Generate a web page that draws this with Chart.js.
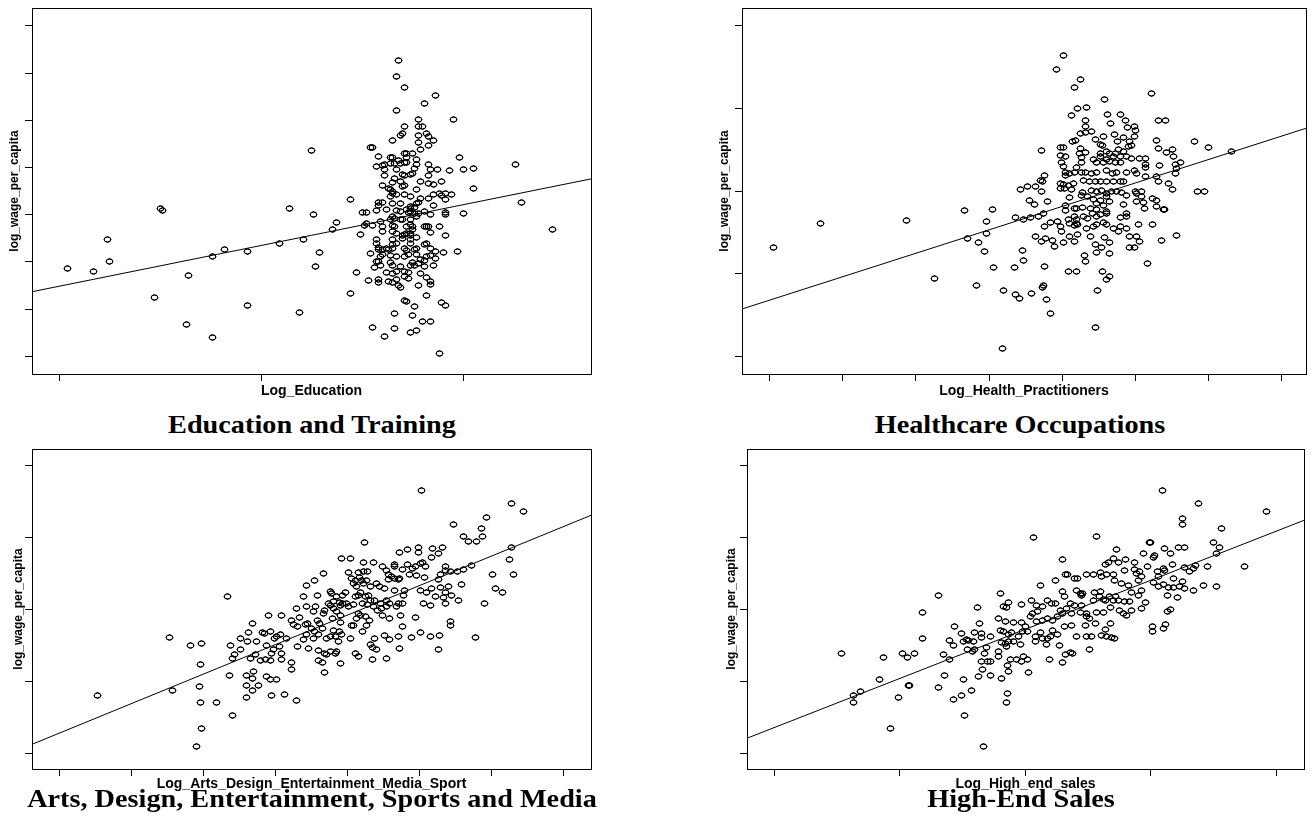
<!DOCTYPE html>
<html>
<head>
<meta charset="utf-8">
<script src="https://cdn.jsdelivr.net/npm/chart.js@4.4.1/dist/chart.umd.min.js"></script>
<style>
html, body { margin: 0; padding: 0; background: #fff; overflow: hidden; }
body { width: 1314px; height: 832px; position: relative; }
canvas { position: absolute; }
.ttl { position: absolute; width: 640px; text-align: center; white-space: nowrap; color: #000;
       font: bold 25px "Liberation Serif", "Times New Roman", serif; line-height: 25px;
       transform: scaleX(1.13); transform-origin: 50% 50%; }
</style>
</head>
<body>
<canvas id="edu" width="657" height="400" style="left:0;top:0"></canvas>
<canvas id="health" width="657" height="400" style="left:657px;top:0"></canvas>
<canvas id="arts" width="657" height="360" style="left:0;top:440px"></canvas>
<canvas id="sales" width="657" height="360" style="left:657px;top:440px"></canvas>
<div class="ttl" style="left:-8px;top:412px">Education and Training</div>
<div class="ttl" style="left:700px;top:412px">Healthcare Occupations</div>
<div class="ttl" style="left:-8px;top:786px">Arts, Design, Entertainment, Sports and Media</div>
<div class="ttl" style="left:701px;top:786px">High-End Sales</div>
<script>
// values, axes unlabeled so one tick step = 1 unit
const eduPoints = [
[0.04,1.87],[0.17,1.79],[0.24,2.47],[0.25,2.00],[0.50,3.14],[0.51,3.10],[0.47,1.25],[0.64,1.72],[0.63,0.67],[0.76,0.39],
[0.76,2.12],[0.82,2.27],[0.93,2.23],[0.93,1.08],[1.09,2.39],[1.14,3.14],[1.25,4.37],[1.26,3.00],[1.21,2.48],[1.29,2.20],
[1.27,1.91],[1.19,0.92],[1.35,2.68],[1.37,2.83],
[1.68,6.27],[1.67,5.94],[1.71,5.69],[1.86,5.53],[1.81,5.35],[1.67,5.22],[1.95,5.01],[1.78,5.02],[1.71,4.86],[1.78,4.87],
[1.80,4.87],[1.65,4.58],[1.69,4.69],[1.70,4.73],[1.78,4.69],[1.82,4.72],[1.83,4.65],[1.85,4.57],[1.78,4.54],[1.83,4.46],
[1.79,4.39],[1.54,4.42],[1.55,4.42],[1.58,4.24],[1.64,4.21],[1.65,4.21],[1.71,4.30],[1.72,4.29],[1.75,4.30],[1.72,4.22],
[1.68,4.16],[1.77,4.18],[1.98,4.22],[2.26,4.07],[1.57,4.03],[1.60,4.04],[1.61,4.06],[1.64,4.09],[1.66,4.09],[1.69,4.09],
[1.71,4.10],[1.72,4.10],[1.77,4.06],[1.83,4.06],[1.61,3.95],[1.67,3.95],[1.76,3.99],[1.84,3.96],[1.87,3.97],[1.93,3.93],
[2.00,3.95],[2.05,3.98],[1.70,3.86],[1.71,3.83],[1.74,3.86],[1.75,3.88],[1.61,3.84],[1.83,3.84],[1.65,3.69],[1.66,3.77],
[1.69,3.70],[1.79,3.70],[1.83,3.67],[1.85,3.65],[1.89,3.71],[1.60,3.62],[1.71,3.63],[1.70,3.60],[1.63,3.55],[1.64,3.53],
[1.65,3.49],[1.77,3.53],[1.85,3.42],[1.88,3.46],[1.91,3.46],[1.94,3.44],[2.05,3.55],[1.89,3.40],[1.91,3.32],[1.67,3.42],
[1.71,3.42],[1.65,3.46],[1.64,3.38],[1.74,3.38],[1.79,3.35],[1.83,3.34],[1.44,3.33],[1.60,3.27],[1.58,3.26],[1.58,3.19],
[1.65,3.24],[1.69,3.23],[1.78,3.26],[1.77,3.23],[1.74,3.17],[1.72,3.12],[1.74,3.14],[1.76,3.16],[1.85,3.19],[2.29,3.26],
[1.50,3.05],[1.52,3.05],[1.57,3.10],[1.62,3.12],[1.67,3.09],[1.69,3.07],[1.73,3.05],[1.74,3.07],[1.76,3.03],[1.78,3.03],
[1.81,3.06],[1.91,3.04],[1.91,3.00],[2.00,3.02],[1.84,3.01],[1.77,2.97],[1.65,2.96],[1.66,2.93],[1.64,2.90],[1.69,2.91],
[1.70,2.89],[1.74,2.89],[1.59,2.86],[1.51,2.78],[1.52,2.81],[1.55,2.78],[1.60,2.75],[1.65,2.78],[1.66,2.75],[1.72,2.75],
[1.74,2.80],[1.75,2.75],[1.81,2.76],[1.82,2.75],[1.83,2.75],[1.88,2.75],[2.44,2.68],[1.60,2.64],[1.49,2.59],[1.65,2.64],
[1.67,2.61],[1.70,2.57],[1.71,2.59],[1.72,2.61],[1.74,2.57],[1.74,2.61],[1.75,2.68],[1.84,2.62],[1.91,2.57],[1.77,2.52],
[1.65,2.47],[1.70,2.49],[1.74,2.47],[1.57,2.48],[1.57,2.40],[1.67,2.40],[1.65,2.36],[1.65,2.29],[1.74,2.40],[1.81,2.36],
[1.82,2.40],[1.58,2.31],[1.60,2.27],[1.58,2.27],[1.62,2.29],[1.63,2.27],[1.71,2.29],[1.72,2.25],[1.76,2.27],[1.77,2.29],
[1.84,2.29],[1.86,2.22],[1.90,2.21],[1.97,2.23],[1.54,2.17],[1.59,2.11],[1.60,2.15],[1.64,2.13],[1.67,2.11],[1.71,2.11],
[1.73,2.15],[1.77,2.15],[1.82,2.11],[1.84,2.13],[1.86,2.07],[1.79,2.06],[1.81,2.04],[1.58,2.01],[1.57,2.00],[1.64,1.98],
[1.65,1.92],[1.75,1.99],[1.74,1.92],[1.76,1.92],[1.78,1.97],[1.69,1.90],[1.81,1.90],[1.85,1.92],[1.56,1.88],[1.59,1.92],
[1.62,1.77],[1.65,1.76],[1.67,1.79],[1.71,1.79],[1.73,1.77],[1.47,1.77],[1.79,1.76],[1.82,1.67],[1.84,1.58],[1.84,1.53],
[1.53,1.60],[1.58,1.62],[1.58,1.57],[1.63,1.58],[1.65,1.56],[1.67,1.62],[1.68,1.51],[1.71,1.69],[1.73,1.65],[1.78,1.50],
[1.69,1.46],[1.44,1.34],[1.82,1.29],[1.71,1.18],[1.72,1.16],[1.76,1.05],[1.89,1.15],[1.91,1.07],[1.66,0.90],[1.75,0.86],
[1.80,0.73],[1.84,0.73],[1.55,0.61],[1.66,0.60],[1.61,0.42],[1.74,0.50],[1.77,0.54],[1.88,0.07]
];
const healthPoints = [
[0.06,1.32],[0.70,1.61],[1.87,1.64],[2.25,0.94],[2.67,1.76],[2.71,1.43],[2.86,1.38],[2.83,0.86],[2.94,1.27],[2.97,1.63],
[2.97,1.49],[3.04,1.77],[3.06,1.07],
[4.01,3.64],[3.92,3.47],[4.25,3.35],[4.16,3.26],[5.22,3.18],[4.58,3.11],[4.21,3.00],[4.33,3.01],[4.13,2.92],[4.62,2.93],
[4.80,2.93],[4.32,2.85],[4.66,2.82],[4.86,2.85],[5.32,2.85],[5.41,2.85],[4.31,2.78],[4.25,2.70],[4.32,2.71],[4.40,2.72],
[4.89,2.77],[4.99,2.78],[5.00,2.73],[4.56,2.66],[4.71,2.68],[4.83,2.65],[4.98,2.66],[4.14,2.60],[4.18,2.61],[4.45,2.62],
[4.52,2.56],[4.55,2.55],[4.75,2.60],[4.92,2.60],[5.28,2.61],[5.32,2.52],[5.43,2.47],[5.80,2.60],[6.00,2.53],[6.31,2.48],
[3.72,2.49],[3.98,2.53],[4.02,2.53],[4.25,2.52],[4.32,2.47],[4.24,2.46],[4.26,2.41],[4.52,2.46],[4.61,2.48],[4.65,2.46],
[4.72,2.46],[4.77,2.50],[4.83,2.48],[4.90,2.54],[4.95,2.55],[5.51,2.50],[5.52,2.42],[3.98,2.43],[4.05,2.42],[4.42,2.38],
[4.52,2.42],[4.61,2.38],[4.70,2.42],[4.80,2.42],[4.87,2.42],[4.95,2.39],[5.06,2.39],[5.13,2.39],[3.99,2.34],[4.02,2.30],
[4.20,2.29],[4.26,2.34],[4.47,2.34],[4.56,2.34],[4.65,2.36],[4.72,2.34],[4.79,2.34],[5.13,2.32],[5.14,2.28],[5.33,2.31],
[5.55,2.32],[5.62,2.35],[5.55,2.21],[5.56,2.27],[4.05,2.23],[4.04,2.19],[4.10,2.21],[4.17,2.22],[4.26,2.22],[4.32,2.23],
[4.40,2.21],[4.47,2.23],[4.60,2.25],[4.68,2.21],[4.74,2.23],[4.88,2.22],[4.98,2.25],[5.02,2.21],[3.75,2.19],[3.70,2.13],
[5.14,2.17],[5.28,2.17],[5.32,2.12],[3.98,2.09],[4.02,2.08],[4.08,2.07],[4.15,2.09],[4.29,2.13],[4.37,2.12],[4.45,2.11],
[4.52,2.11],[4.61,2.12],[4.70,2.11],[4.79,2.12],[4.84,2.11],[5.45,2.09],[5.50,2.02],[3.43,2.02],[3.53,2.05],[3.64,2.05],
[3.71,2.00],[3.73,2.12],[3.98,2.03],[4.03,2.03],[4.12,2.02],[4.28,1.98],[4.40,2.01],[4.47,1.99],[4.54,2.01],[4.61,1.97],
[4.67,1.99],[4.74,1.99],[4.81,1.98],[5.00,1.99],[5.08,2.00],[5.01,1.97],[5.85,2.00],[5.94,2.00],[3.55,1.89],[3.62,1.84],
[3.80,1.87],[4.10,1.92],[4.26,1.95],[4.35,1.93],[4.43,1.90],[4.47,1.85],[4.52,1.89],[4.61,1.93],[4.65,1.87],[4.87,1.94],
[5.01,1.87],[5.08,1.93],[5.11,1.86],[5.23,1.91],[5.29,1.88],[5.38,1.78],[4.05,1.83],[4.16,1.79],[4.20,1.79],[4.28,1.80],
[4.38,1.79],[4.47,1.77],[4.56,1.82],[4.61,1.75],[4.84,1.84],[5.12,1.79],[5.28,1.81],[5.39,1.78],[3.36,1.68],[3.47,1.65],
[3.56,1.68],[3.67,1.69],[3.74,1.73],[4.04,1.76],[4.08,1.65],[4.16,1.69],[4.20,1.66],[4.29,1.69],[4.35,1.67],[4.41,1.73],
[4.47,1.69],[4.52,1.72],[4.60,1.73],[4.80,1.68],[4.88,1.69],[4.88,1.73],[5.04,1.60],[5.23,1.60],[3.76,1.57],[3.84,1.62],
[3.94,1.63],[3.97,1.57],[3.99,1.51],[4.10,1.61],[4.20,1.61],[4.17,1.58],[4.21,1.59],[4.33,1.55],[4.43,1.57],[4.47,1.60],
[4.56,1.62],[4.61,1.59],[4.70,1.55],[4.77,1.51],[4.80,1.57],[4.88,1.54],[3.64,1.45],[3.71,1.39],[3.77,1.43],[3.86,1.40],
[3.89,1.33],[4.01,1.37],[4.10,1.45],[4.16,1.39],[4.21,1.47],[4.38,1.45],[4.45,1.35],[4.47,1.26],[4.54,1.31],[4.57,1.44],
[4.65,1.37],[4.65,1.24],[4.92,1.45],[5.02,1.45],[5.05,1.39],[4.98,1.32],[4.92,1.32],[5.36,1.40],[5.56,1.46],[3.46,1.28],
[3.47,1.16],[3.35,1.07],[3.76,1.08],[4.30,1.22],[4.31,1.14],[5.17,1.12],[4.09,1.02],[4.20,1.03],[4.55,1.03],[4.61,0.93],
[4.65,0.96],[3.20,0.79],[3.36,0.74],[3.42,0.70],[3.58,0.76],[3.74,0.86],[3.73,0.83],[3.79,0.69],[3.84,0.52],[4.48,0.80],
[4.46,0.34],[3.18,0.09]
];
const artsPoints = [
[0.53,0.80],[1.53,1.61],[1.57,0.87],[1.82,1.50],[1.97,1.53],[1.96,1.23],[1.95,0.93],[1.96,0.70],[2.19,0.70],[1.98,0.34],
[1.91,0.10],[2.34,2.18],[2.38,1.50],[2.43,1.38],[2.40,1.32],[2.37,1.08],[2.40,0.53],[2.51,1.45],[2.52,1.59],[2.62,1.55],
[2.63,1.68],[2.69,1.81],[2.74,1.56],[2.65,1.32],[2.72,1.37],[2.60,1.08],[2.69,1.04],[2.70,1.14],[2.60,0.95],[2.77,0.94],
[2.69,0.87],[2.60,0.77],[2.80,1.29],[2.87,1.30],[2.90,1.92],[2.82,1.68],[2.85,1.66],[2.93,1.69],[2.88,1.50],[2.93,1.29],
[2.95,1.39],[2.97,1.44],[2.88,1.07],[2.93,1.02],[3.02,1.03],[2.95,0.80],[3.13,0.82],[3.29,0.74],[3.09,1.92],[2.99,1.60],
[3.02,1.62],[3.07,1.65],[3.06,1.48],[3.09,1.39],[3.15,1.59],[3.08,1.30],[3.23,1.85],[3.25,1.79],[3.23,1.26],[3.23,1.17],
[3.30,2.01],[3.34,1.89],[3.31,1.76],[3.31,1.49],[3.39,2.18],[3.43,2.34],[3.42,1.79],[3.45,1.81],[3.39,1.58],[3.43,1.65],
[3.44,2.04],[3.53,1.97],[3.55,2.41],[3.59,2.20],[3.50,1.74],[3.54,1.69],[3.53,1.59],[3.46,1.46],[3.56,2.04],[3.58,1.85],
[3.62,1.81],[3.60,1.65],[3.60,1.43],[3.60,1.29],[3.68,1.39],[3.66,1.26],[3.69,1.13],[3.67,2.50],[3.67,1.95],[3.69,1.99],
[3.74,2.09],[3.77,2.06],[3.66,1.74],[3.71,1.59],[3.76,1.62],[3.71,1.37],
[5.03,3.65],[6.28,3.48],[6.45,3.36],[5.93,3.28],[5.87,3.12],[5.88,3.01],[5.47,3.18],[5.61,3.01],[5.69,2.94],[5.79,2.94],
[4.24,2.93],[6.28,2.86],[6.25,2.70],[6.31,2.48],[4.72,2.79],[4.83,2.84],[4.99,2.86],[4.99,2.79],[5.19,2.85],[5.32,2.86],
[5.26,2.78],[5.17,2.73],[3.92,2.71],[4.04,2.71],[4.22,2.65],[4.36,2.66],[4.01,2.52],[4.15,2.52],[4.22,2.53],[4.28,2.53],
[4.49,2.60],[4.55,2.54],[4.66,2.62],[4.65,2.60],[4.76,2.56],[4.83,2.62],[4.91,2.57],[4.95,2.60],[5.01,2.64],[5.05,2.66],
[5.08,2.60],[4.87,2.48],[4.96,2.47],[5.07,2.44],[5.36,2.60],[5.37,2.54],[5.44,2.53],[5.53,2.53],[5.61,2.55],[5.73,2.61],
[5.29,2.48],[5.26,2.42],[6.02,2.48],[6.06,2.29],[6.15,2.23],[5.90,2.09],[4.06,2.43],[4.11,2.41],[4.08,2.36],[4.17,2.44],
[4.20,2.41],[4.22,2.36],[4.27,2.41],[4.13,2.32],[4.32,2.32],[4.41,2.36],[4.45,2.32],[4.51,2.29],[4.57,2.48],[4.57,2.42],
[4.62,2.46],[4.66,2.43],[4.71,2.42],[4.73,2.43],[4.66,2.27],[4.79,2.27],[4.78,2.20],[5.01,2.27],[5.10,2.23],[5.17,2.29],
[5.29,2.30],[5.41,2.32],[5.36,2.23],[5.22,2.18],[5.33,2.16],[5.45,2.20],[5.58,2.35],[5.54,2.13],[3.76,2.25],[3.78,2.22],
[3.85,2.18],[3.94,2.20],[3.97,2.23],[3.81,2.11],[3.89,2.10],[3.90,2.06],[3.93,2.09],[3.99,2.09],[4.01,2.04],[4.08,2.07],
[4.11,2.18],[4.15,2.20],[4.19,2.23],[4.25,2.18],[4.29,2.20],[4.21,2.09],[4.28,2.07],[4.32,2.12],[4.38,2.13],[4.36,2.04],
[4.42,1.99],[4.46,2.09],[4.54,2.12],[4.55,2.04],[4.59,2.08],[4.69,2.04],[4.71,2.09],[4.76,2.09],[4.48,2.02],[4.49,1.92],
[4.59,1.88],[3.81,2.02],[3.85,1.97],[3.80,1.88],[3.90,1.92],[3.90,1.82],[4.06,1.78],[4.08,1.78],[4.15,1.95],[4.13,1.88],
[4.18,1.91],[4.25,1.90],[4.31,1.85],[4.27,1.78],[4.21,1.69],[4.74,1.92],[4.76,1.76],[4.95,1.89],[5.06,2.09],[5.15,2.06],
[5.36,2.09],[5.43,1.83],[5.44,1.78],[3.81,1.71],[3.89,1.69],[3.92,1.65],[3.83,1.62],[3.88,1.55],[4.04,1.59],[3.76,1.41],
[3.83,1.39],[3.85,1.41],[3.91,1.25],[4.12,1.39],[4.15,1.34],[4.32,1.51],[4.35,1.47],[4.41,1.44],[4.35,1.30],[4.55,1.32],
[4.38,1.60],[4.51,1.64],[4.59,1.58],[4.71,1.62],[4.72,1.46],[4.89,1.61],[5.01,1.68],[5.15,1.62],[5.28,1.64],[5.27,1.45],
[5.78,1.61]
];
const salesPoints = [
[0.54,1.39],[0.63,0.80],[0.63,0.70],[0.69,0.86],[0.87,1.33],[0.84,1.02],[0.93,0.34],[0.99,0.77],[1.02,1.39],[1.06,1.33],
[1.12,1.39],[1.07,0.95],[1.08,0.94],[1.18,1.96],[1.18,1.59],[1.31,2.20],[1.31,0.92],[1.36,1.08],[1.35,1.38],[1.40,1.30],
[1.40,1.57],[1.43,1.50],[1.44,1.77],[1.43,0.75],[1.49,0.80],[1.52,0.53],[1.49,1.66],[1.51,1.56],[1.53,1.58],[1.55,1.57],
[1.59,1.55],[1.60,1.68],[1.54,1.44],[1.58,1.42],[1.60,1.45],[1.51,1.03],[1.57,0.87],[1.62,2.03],[1.64,1.81],[1.65,1.67],
[1.65,1.61],[1.69,1.47],[1.72,1.62],[1.68,1.39],[1.65,1.28],[1.70,1.27],[1.72,1.27],[1.66,1.16],[1.63,1.07],[1.72,1.08],
[1.67,0.09],[1.79,1.88],[1.83,2.04],[1.80,1.71],[1.83,1.69],[1.81,1.54],[1.84,1.53],[1.87,1.65],[1.89,1.68],[1.79,1.41],
[1.79,1.35],[1.87,1.56],
[3.09,3.65],[3.38,3.48],[3.92,3.36],[3.25,3.27],[3.25,3.18],[3.56,3.12],[2.07,3.00],[2.57,3.01],[2.99,2.93],[3.00,2.93],
[3.50,2.93],[3.55,2.86],[3.52,2.78],[2.73,2.83],[3.11,2.85],[3.16,2.78],[3.22,2.86],[3.27,2.86],[2.30,2.69],[2.70,2.71],
[2.74,2.65],[2.64,2.62],[2.66,2.66],[2.80,2.70],[2.87,2.66],[2.94,2.78],[3.02,2.73],[3.03,2.75],[3.75,2.60],[3.45,2.60],
[3.36,2.61],[3.34,2.57],[3.31,2.53],[3.27,2.59],[3.17,2.62],[3.10,2.57],[3.05,2.53],[2.97,2.60],[2.32,2.48],[2.34,2.48],
[2.39,2.43],[2.42,2.43],[2.49,2.48],[2.54,2.48],[2.60,2.51],[2.61,2.46],[2.65,2.48],[2.70,2.49],[2.79,2.54],[2.87,2.56],
[2.89,2.50],[2.91,2.53],[2.93,2.46],[2.90,2.41],[2.12,2.34],[2.24,2.41],[2.30,2.25],[2.31,2.18],[2.41,2.27],[2.44,2.22],
[2.45,2.20],[2.46,2.22],[2.55,2.23],[2.60,2.25],[2.71,2.40],[2.77,2.36],[2.82,2.33],[2.85,2.24],[2.93,2.26],[3.02,2.37],
[3.06,2.46],[3.11,2.54],[3.18,2.43],[3.25,2.39],[3.06,2.32],[3.10,2.35],[3.14,2.30],[3.18,2.31],[3.23,2.32],[3.27,2.29],
[3.34,2.26],[3.42,2.33],[3.52,2.32],[3.13,2.19],[3.21,2.16],[3.13,1.97],[3.16,2.00],[1.80,2.22],[1.87,2.10],[1.85,2.03],
[1.97,2.07],[1.97,1.82],[2.05,2.12],[2.09,2.06],[2.10,1.97],[2.14,2.04],[2.18,2.13],[2.21,2.08],[2.24,2.09],[2.28,1.99],
[2.36,2.09],[2.39,2.05],[2.45,2.06],[2.54,2.12],[2.59,2.18],[2.62,2.14],[2.64,2.12],[2.67,2.18],[2.72,2.18],[2.74,2.13],
[2.79,2.11],[2.83,2.11],[2.90,2.19],[2.96,2.10],[2.04,1.90],[2.06,1.94],[2.09,1.83],[2.14,1.85],[2.18,1.88],[2.22,1.85],
[2.26,1.90],[2.30,1.95],[2.33,2.02],[2.37,1.95],[2.44,1.96],[2.49,1.95],[2.49,1.90],[2.51,1.88],[2.57,1.96],[2.62,1.96],
[2.68,2.03],[2.70,2.13],[2.75,1.98],[2.78,1.95],[2.81,1.91],[2.85,1.99],[2.93,2.02],[1.84,1.83],[1.91,1.82],[2.00,1.76],
[1.98,1.69],[1.95,1.62],[1.91,1.55],[2.02,1.69],[1.96,1.51],[1.85,1.48],[2.08,1.62],[2.12,1.68],[2.08,1.55],[2.14,1.59],
[2.18,1.60],[2.20,1.62],[2.22,1.71],[2.26,1.65],[2.31,1.76],[2.37,1.78],[2.41,1.63],[2.48,1.78],[2.49,1.62],[2.53,1.63],
[2.56,1.81],[2.61,1.64],[2.64,1.72],[2.65,1.62],[2.68,1.80],[2.69,1.61],[2.71,1.59],[2.17,1.51],[2.27,1.50],[2.32,1.37],
[2.36,1.40],[2.38,1.39],[2.51,1.45],[2.19,1.31],[2.30,1.26],[1.93,1.30],[1.97,1.27],[1.99,1.35],[2.02,1.30],[2.03,1.13],
[1.88,1.30],[1.87,1.14],[1.86,1.22],[1.81,1.04],[1.86,0.83],[1.85,0.70],[3.01,1.77],[3.01,1.70],[3.10,1.74],[3.12,1.79]
];

// fitted lines, read at the two plot edges
const eduFit = [[-0.135, 1.37], [2.632, 3.76]];
const healthFit = [[-0.376, 0.57], [7.329, 2.76]];
const artsFit = [[-0.379, 0.125], [7.385, 3.31]];
const salesFit = [[-0.215, 0.21], [4.22, 3.24]];

// tick positions (unlabeled) and axis limits
const eduXTicks = [0, 1, 2];
const eduYTicks = [0, 1, 2, 3, 4, 5, 6, 7];
const healthXTicks = [0, 1, 2, 3, 4, 5, 6, 7];
const healthYTicks = [0, 1, 2, 3, 4];
const artsXTicks = [0, 1, 2, 3, 4, 5, 6, 7];
const artsYTicks = [0, 1, 2, 3, 4];
const salesXTicks = [0, 1, 2, 3, 4];
const salesYTicks = [0, 1, 2, 3, 4];
const eduXRange = [-0.135, 2.632], eduYRange = [-0.373, 7.381];
const healthXRange = [-0.376, 7.329], healthYRange = [-0.218, 4.218];
const artsXRange = [-0.379, 7.385], artsYRange = [-0.218, 4.232];
const salesXRange = [-0.215, 4.22], salesYRange = [-0.218, 4.232];

Chart.defaults.font.family = '"Liberation Sans", Arial, sans-serif';
Chart.defaults.color = '#000';

// small open ellipse marker like the original plot symbol
const marker = document.createElement('canvas');
marker.width = 9; marker.height = 7;
const mc = marker.getContext('2d');
mc.strokeStyle = '#000';
mc.lineWidth = 1;
mc.beginPath();
mc.ellipse(4.5, 3.5, 3.3, 2.6, 0, 0, Math.PI * 2);
mc.stroke();
// darken the anti-aliased edge a bit so the rings read as solid lines
const img = mc.getImageData(0, 0, 9, 7);
for (let i = 3; i < img.data.length; i += 4) {
    img.data[i] = Math.min(255, img.data[i] * 1.7);
}
mc.putImageData(img, 0, 0);

const frame = {
    id: 'frame',
    beforeDatasetsDraw(chart) {
        chart.ctx.imageSmoothingEnabled = false;
    },
    afterDraw(chart) {
        const a = chart.chartArea, c = chart.ctx;
        const px = v => Math.round(v - 0.5) + 0.5;
        c.save();
        c.strokeStyle = '#000';
        c.lineWidth = 1;
        c.strokeRect(px(a.left), px(a.top), px(a.right) - px(a.left), px(a.bottom) - px(a.top));
        c.restore();
    }
};

function toXY(list) {
    return list.map(p => ({x: p[0], y: p[1]}));
}

function scatterPanel(id, points, fit, xTicks, yTicks, xRange, yRange, xTitle, lay) {
    const axisGrid = {drawOnChartArea: false, drawTicks: true, tickLength: 7, color: '#000', lineWidth: 1};
    new Chart(document.getElementById(id), {
        type: 'scatter',
        data: {
            datasets: [{
                data: toXY(fit),
                showLine: true,
                borderColor: '#000',
                borderWidth: 1,
                pointRadius: 0,
                fill: false
            }, {
                data: toXY(points),
                pointStyle: marker,
                pointRadius: 3,
                pointHoverRadius: 3,
                borderColor: '#000',
                backgroundColor: 'rgba(0,0,0,0)'
            }]
        },
        options: {
            responsive: false,
            animation: false,
            events: [],
            layout: {padding: {left: 0, top: lay.top, right: lay.right, bottom: 0}},
            plugins: {legend: {display: false}, tooltip: {enabled: false}},
            scales: {
                x: {
                    type: 'linear', min: xRange[0], max: xRange[1],
                    afterBuildTicks: s => { s.ticks = xTicks.map(v => ({value: v})); },
                    afterFit: s => { s.height = lay.xAxis; },
                    ticks: {display: false},
                    grid: axisGrid,
                    border: {display: true, color: '#000', width: 1},
                    title: {display: true, text: xTitle, color: '#000',
                            font: {size: 14, weight: 'bold', lineHeight: 1},
                            padding: {top: 0, bottom: lay.xTitlePad}}
                },
                y: {
                    type: 'linear', min: yRange[0], max: yRange[1],
                    afterBuildTicks: s => { s.ticks = yTicks.map(v => ({value: v})); },
                    afterFit: s => { s.width = lay.yAxis; },
                    ticks: {display: false},
                    grid: axisGrid,
                    border: {display: true, color: '#000', width: 1},
                    title: {display: true, text: 'log_wage_per_capita', color: '#000',
                            font: {size: 12, weight: 'bold', lineHeight: 1},
                            padding: {top: lay.yTitlePad, bottom: 0}}
                }
            }
        },
        plugins: [frame]
    });
}

scatterPanel('edu', eduPoints, eduFit, eduXTicks, eduYTicks, eduXRange, eduYRange, 'Log_Education',
    {top: 8, right: 66, xAxis: 26, yAxis: 32, xTitlePad: 1.7, yTitlePad: 9});
scatterPanel('health', healthPoints, healthFit, healthXTicks, healthYTicks, healthXRange, healthYRange, 'Log_Health_Practitioners',
    {top: 8, right: 8, xAxis: 26, yAxis: 85, xTitlePad: 1.7, yTitlePad: 62});
scatterPanel('arts', artsPoints, artsFit, artsXTicks, artsYTicks, artsXRange, artsYRange, 'Log_Arts_Design_Entertainment_Media_Sport',
    {top: 9, right: 66, xAxis: 31, yAxis: 32, xTitlePad: 9, yTitlePad: 12.5});
scatterPanel('sales', salesPoints, salesFit, salesXTicks, salesYTicks, salesXRange, salesYRange, 'Log_High_end_sales',
    {top: 9, right: 10, xAxis: 31, yAxis: 90, xTitlePad: 9, yTitlePad: 68.7});
</script>
</body>
</html>
